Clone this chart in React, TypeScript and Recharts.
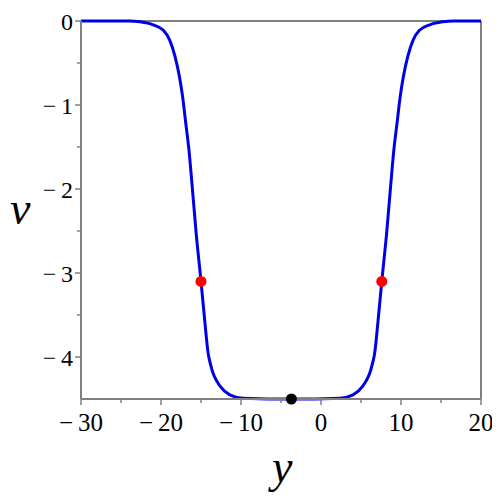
import React from 'react';
import { ComposedChart, Line, Scatter, XAxis, YAxis, ReferenceLine } from 'recharts';

// curve samples (y, v)
const curveY = [
  -30, -24, -22.6, -21, -19.7, -18.9, -18.25, -17.7, -17.3, -16.9, -16.5, -16.1, -15.6, -15.0, -14.7, -14.5, -14.1,
  -13.8, -13.5, -13.0, -12.6, -11.4, -9.75, -3.7, 2.35, 4.0, 5.2, 5.6, 6.1, 6.4, 6.7, 7.1, 7.3, 7.6, 8.2, 8.7, 9.1,
  9.5, 9.9, 10.3, 10.85, 11.5, 12.3, 13.6, 15.2, 16.6, 20,
];
const curveV = [
  0, 0, -0.01, -0.045, -0.11, -0.23, -0.42, -0.66, -0.9, -1.22, -1.54, -1.97, -2.53, -3.1, -3.4, -3.6, -3.96,
  -4.09, -4.19, -4.29, -4.35, -4.45, -4.49, -4.5, -4.49, -4.45, -4.35, -4.29, -4.19, -4.09, -3.96, -3.6, -3.4, -3.1,
  -2.53, -1.97, -1.54, -1.22, -0.9, -0.66, -0.42, -0.23, -0.11, -0.045, -0.01, 0, 0,
];

const redY = [-15.0, 7.6];
const redV = [-3.1, -3.1];
const blackY = [-3.7];
const blackV = [-4.5];

const xTicks = [-30, -25, -20, -15, -10, -5, 0, 5, 10, 15, 20];
const yTicks = [-4, -3.5, -3, -2.5, -2, -1.5, -1, -0.5, 0];

const curve = curveY.map((x, i) => ({ x, v: curveV[i] }));
const red = redY.map((x, i) => ({ x, v: redV[i] }));
const black = blackY.map((x, i) => ({ x, v: blackV[i] }));

const AXIS = '#808080';
const FONT = "'Liberation Serif', 'Times New Roman', serif";

const fmt = (n: number) => (n < 0 ? `\u2212\u2009${Math.abs(n)}` : `${n}`);

const XTick = ({ x, y, payload }: any) => {
  const major = payload.value % 10 === 0;
  return (
    <g>
      <line x1={x} x2={x} y1={y} y2={y + (major ? 6 : 4)} stroke={AXIS} strokeWidth={1.5} />
      {major && (
        <text x={x} y={y + 32} textAnchor="middle" fontFamily={FONT} fontSize={25} fill="#000">
          {fmt(payload.value)}
        </text>
      )}
    </g>
  );
};

const YTick = ({ x, y, payload }: any) => {
  const major = Number.isInteger(payload.value);
  return (
    <g>
      <line x1={x} x2={x - (major ? 6 : 4)} y1={y} y2={y} stroke={AXIS} strokeWidth={1.5} />
      {major && (
        <text x={x - 8} y={y + 9} textAnchor="end" fontFamily={FONT} fontSize={24} fill="#000">
          {fmt(payload.value)}
        </text>
      )}
    </g>
  );
};

const dot = (color: string) => (p: any) => <circle cx={p.cx} cy={p.cy} r={5.5} fill={color} />;

export default function App() {
  return (
    <div style={{ position: 'relative', width: 492, height: 492 }}>
      <ComposedChart width={492} height={492} margin={{ top: 13, right: 19, bottom: 61, left: 13 }}>
        <XAxis
          dataKey="x"
          type="number"
          domain={[-30, 20]}
          ticks={xTicks}
          interval={0}
          tick={<XTick />}
          tickLine={false}
          tickSize={0}
          tickMargin={0}
          height={40}
          stroke={AXIS}
          strokeWidth={2}
          allowDuplicatedCategory={false}
        />
        <YAxis
          dataKey="v"
          type="number"
          domain={[-4.5, 0]}
          ticks={yTicks}
          interval={0}
          tick={<YTick />}
          tickLine={false}
          tickSize={0}
          tickMargin={0}
          width={60}
          stroke={AXIS}
          strokeWidth={2}
        />
        <ReferenceLine y={0} stroke={AXIS} strokeWidth={2} />
        <ReferenceLine x={20} stroke={AXIS} strokeWidth={2} />
        <Line
          data={curve}
          dataKey="v"
          type="monotone"
          stroke="#0000e6"
          strokeWidth={3}
          dot={false}
          activeDot={false}
          isAnimationActive={false}
        />
        <Scatter data={red} dataKey="v" shape={dot('#ff0000')} isAnimationActive={false} />
        <Scatter data={black} dataKey="v" shape={dot('#000000')} isAnimationActive={false} />
      </ComposedChart>
      <span
        style={{
          position: 'absolute', left: 2, top: 178, fontFamily: FONT, fontStyle: 'italic', fontSize: 46, lineHeight: '46px',
        }}
      >
        v
      </span>
      <span
        style={{
          position: 'absolute', left: 264, top: 436, fontFamily: FONT, fontStyle: 'italic', fontSize: 46, lineHeight: '46px',
        }}
      >
        y
      </span>
    </div>
  );
}
